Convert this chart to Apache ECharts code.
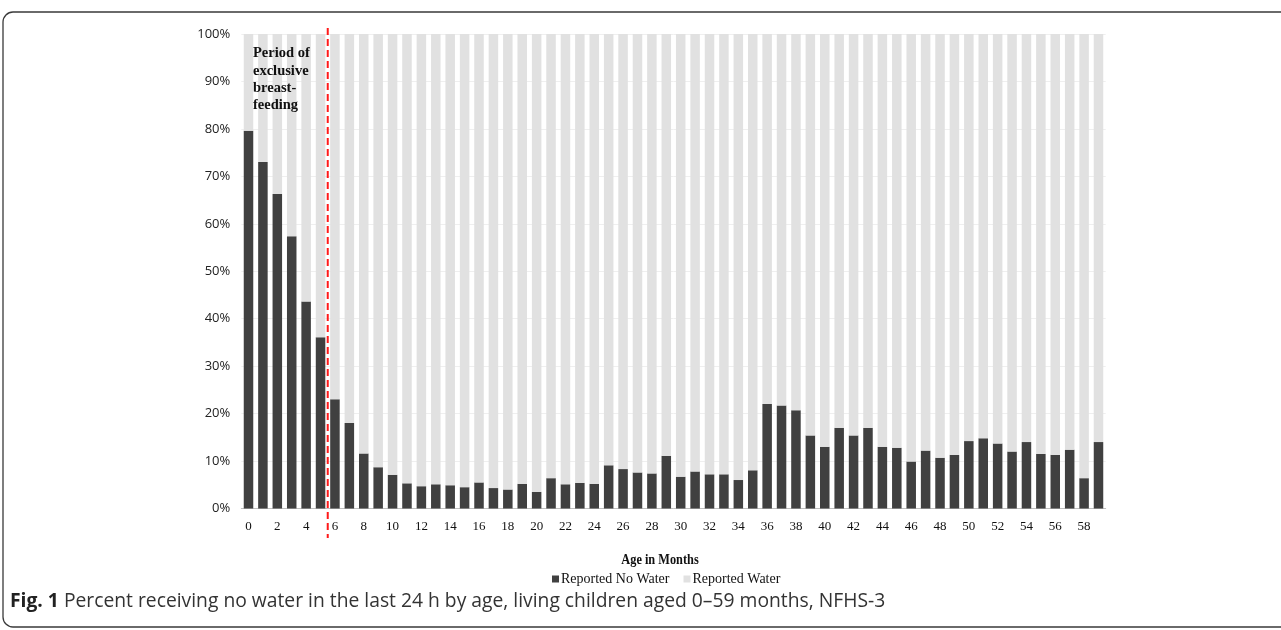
<!DOCTYPE html>
<html>
<head>
<meta charset="utf-8">
<script src="https://cdn.jsdelivr.net/npm/echarts@6/dist/echarts.min.js"></script>
<style>
html,body{margin:0;padding:0;background:#fff;}
#c{width:1281px;height:630px;}
</style>
</head>
<body>
<div id="c"></div>
<script>
// Age in months (categories)
const ages = Array.from({length: 60}, (_, i) => String(i));
// Percent reported no water, by age
const noWater = [
  79.6, 73.0, 66.3, 57.4, 43.6, 36.1, 23.0, 18.0, 11.6, 8.7,
  7.1, 5.3, 4.7, 5.1, 4.9, 4.5, 5.5, 4.3, 4.0, 5.2,
  3.5, 6.4, 5.1, 5.4, 5.2, 9.1, 8.3, 7.6, 7.4, 11.1,
  6.7, 7.8, 7.2, 7.2, 6.0, 8.05, 22.0, 21.7, 20.7, 15.4,
  13.0, 17.0, 15.4, 17.0, 13.0, 12.8, 9.9, 12.2, 10.7, 11.3,
  14.2, 14.8, 13.7, 12.0, 14.0, 11.5, 11.3, 12.4, 6.4, 14.0
];
// Remaining share reported water (stack totals 100%)
const water = noWater.map(v => +(100 - v).toFixed(2));
const yTicks = [0, 10, 20, 30, 40, 50, 60, 70, 80, 90, 100];
const seriesNames = ['Reported No Water', 'Reported Water'];
const annotationLines = ['Period of', 'exclusive', 'breast-', 'feeding'];
const xAxisTitle = 'Age in Months';
const captionBold = 'Fig. 1';
const captionText = ' Percent receiving no water in the last 24 h by age, living children aged 0\u201359 months, NFHS-3';
const boundaryAfter = '5';
const boundaryBefore = '6';

const chart = echarts.init(document.getElementById('c'), null, {renderer: 'canvas'});
const serif = '"Liberation Serif", "Times New Roman", serif';
const sans = '"Open Sans", "Noto Sans", sans-serif';

chart.setOption({
  animation: false,
  backgroundColor: '#ffffff',
  grid: {left: 241.3, right: 175.3, top: 34, bottom: 121.5, containLabel: false},
  legend: {
    data: seriesNames,
    left: 547, top: 567,
    icon: 'rect', itemWidth: 7, itemHeight: 7, itemGap: 14,
    textStyle: {fontFamily: serif, fontSize: 14, color: '#111', padding: [0, 0, 0, -3]}
  },
  xAxis: {
    type: 'category',
    data: ages,
    axisLine: {show: true, lineStyle: {color: '#bfbfbf', width: 1}},
    axisTick: {show: false},
    axisLabel: {interval: 1, fontFamily: serif, fontSize: 13, color: '#111', margin: 12}
  },
  yAxis: {
    type: 'value',
    min: yTicks[0], max: yTicks[yTicks.length - 1], interval: 10,
    axisLine: {show: false},
    axisTick: {show: false},
    splitLine: {show: true, lineStyle: {color: '#efefef', width: 1}},
    axisLabel: {fontFamily: sans, fontSize: 13, color: '#222', margin: 11, formatter: v => v + '%'}
  },
  series: [
    {
      name: seriesNames[0], type: 'bar', stack: 'total', data: noWater,
      barCategoryGap: '34%',
      itemStyle: {color: '#404040'}
    },
    {
      name: seriesNames[1], type: 'bar', stack: 'total', data: water,
      barCategoryGap: '34%',
      itemStyle: {color: '#e1e1e1'}
    }
  ]
});

const xa = chart.convertToPixel({xAxisIndex: 0}, boundaryAfter);
const xb = chart.convertToPixel({xAxisIndex: 0}, boundaryBefore);
const xLine = (xa + xb) / 2;

chart.setOption({
  graphic: [
    {
      type: 'rect', silent: true, z: -10,
      shape: {x: 3, y: 12, width: 1400, height: 615, r: 10},
      style: {fill: 'none', stroke: '#3a3a3a', lineWidth: 1.3}
    },
    {
      type: 'line', silent: true, z: 100,
      shape: {x1: xLine, y1: 28, x2: xLine, y2: 538},
      style: {stroke: '#ff1a1a', lineWidth: 2, lineDash: [7, 4]}
    },
    {
      type: 'text', silent: true, z: 100,
      left: 253, top: 45,
      style: {
        text: annotationLines.join('\n'),
        font: 'bold 14.5px ' + serif,
        lineHeight: 17.3,
        fill: '#111'
      }
    },
    {
      type: 'text', silent: true, z: 100,
      x: 660, y: 560,
      scaleX: 0.88, originX: 0, originY: 0,
      style: {
        text: xAxisTitle,
        font: 'bold 14px ' + serif,
        fill: '#111', align: 'center', verticalAlign: 'middle'
      }
    },
    {
      type: 'text', silent: true, z: 100,
      x: 10, y: 602,
      style: {
        text: '{b|' + captionBold + '}{r|' + captionText + '}',
        verticalAlign: 'middle',
        rich: {
          b: {fontFamily: sans, fontWeight: 'bold', fontSize: 19.3, fill: '#222'},
          r: {fontFamily: sans, fontSize: 19.3, fill: '#333'}
        }
      }
    }
  ]
});
</script>
</body>
</html>
